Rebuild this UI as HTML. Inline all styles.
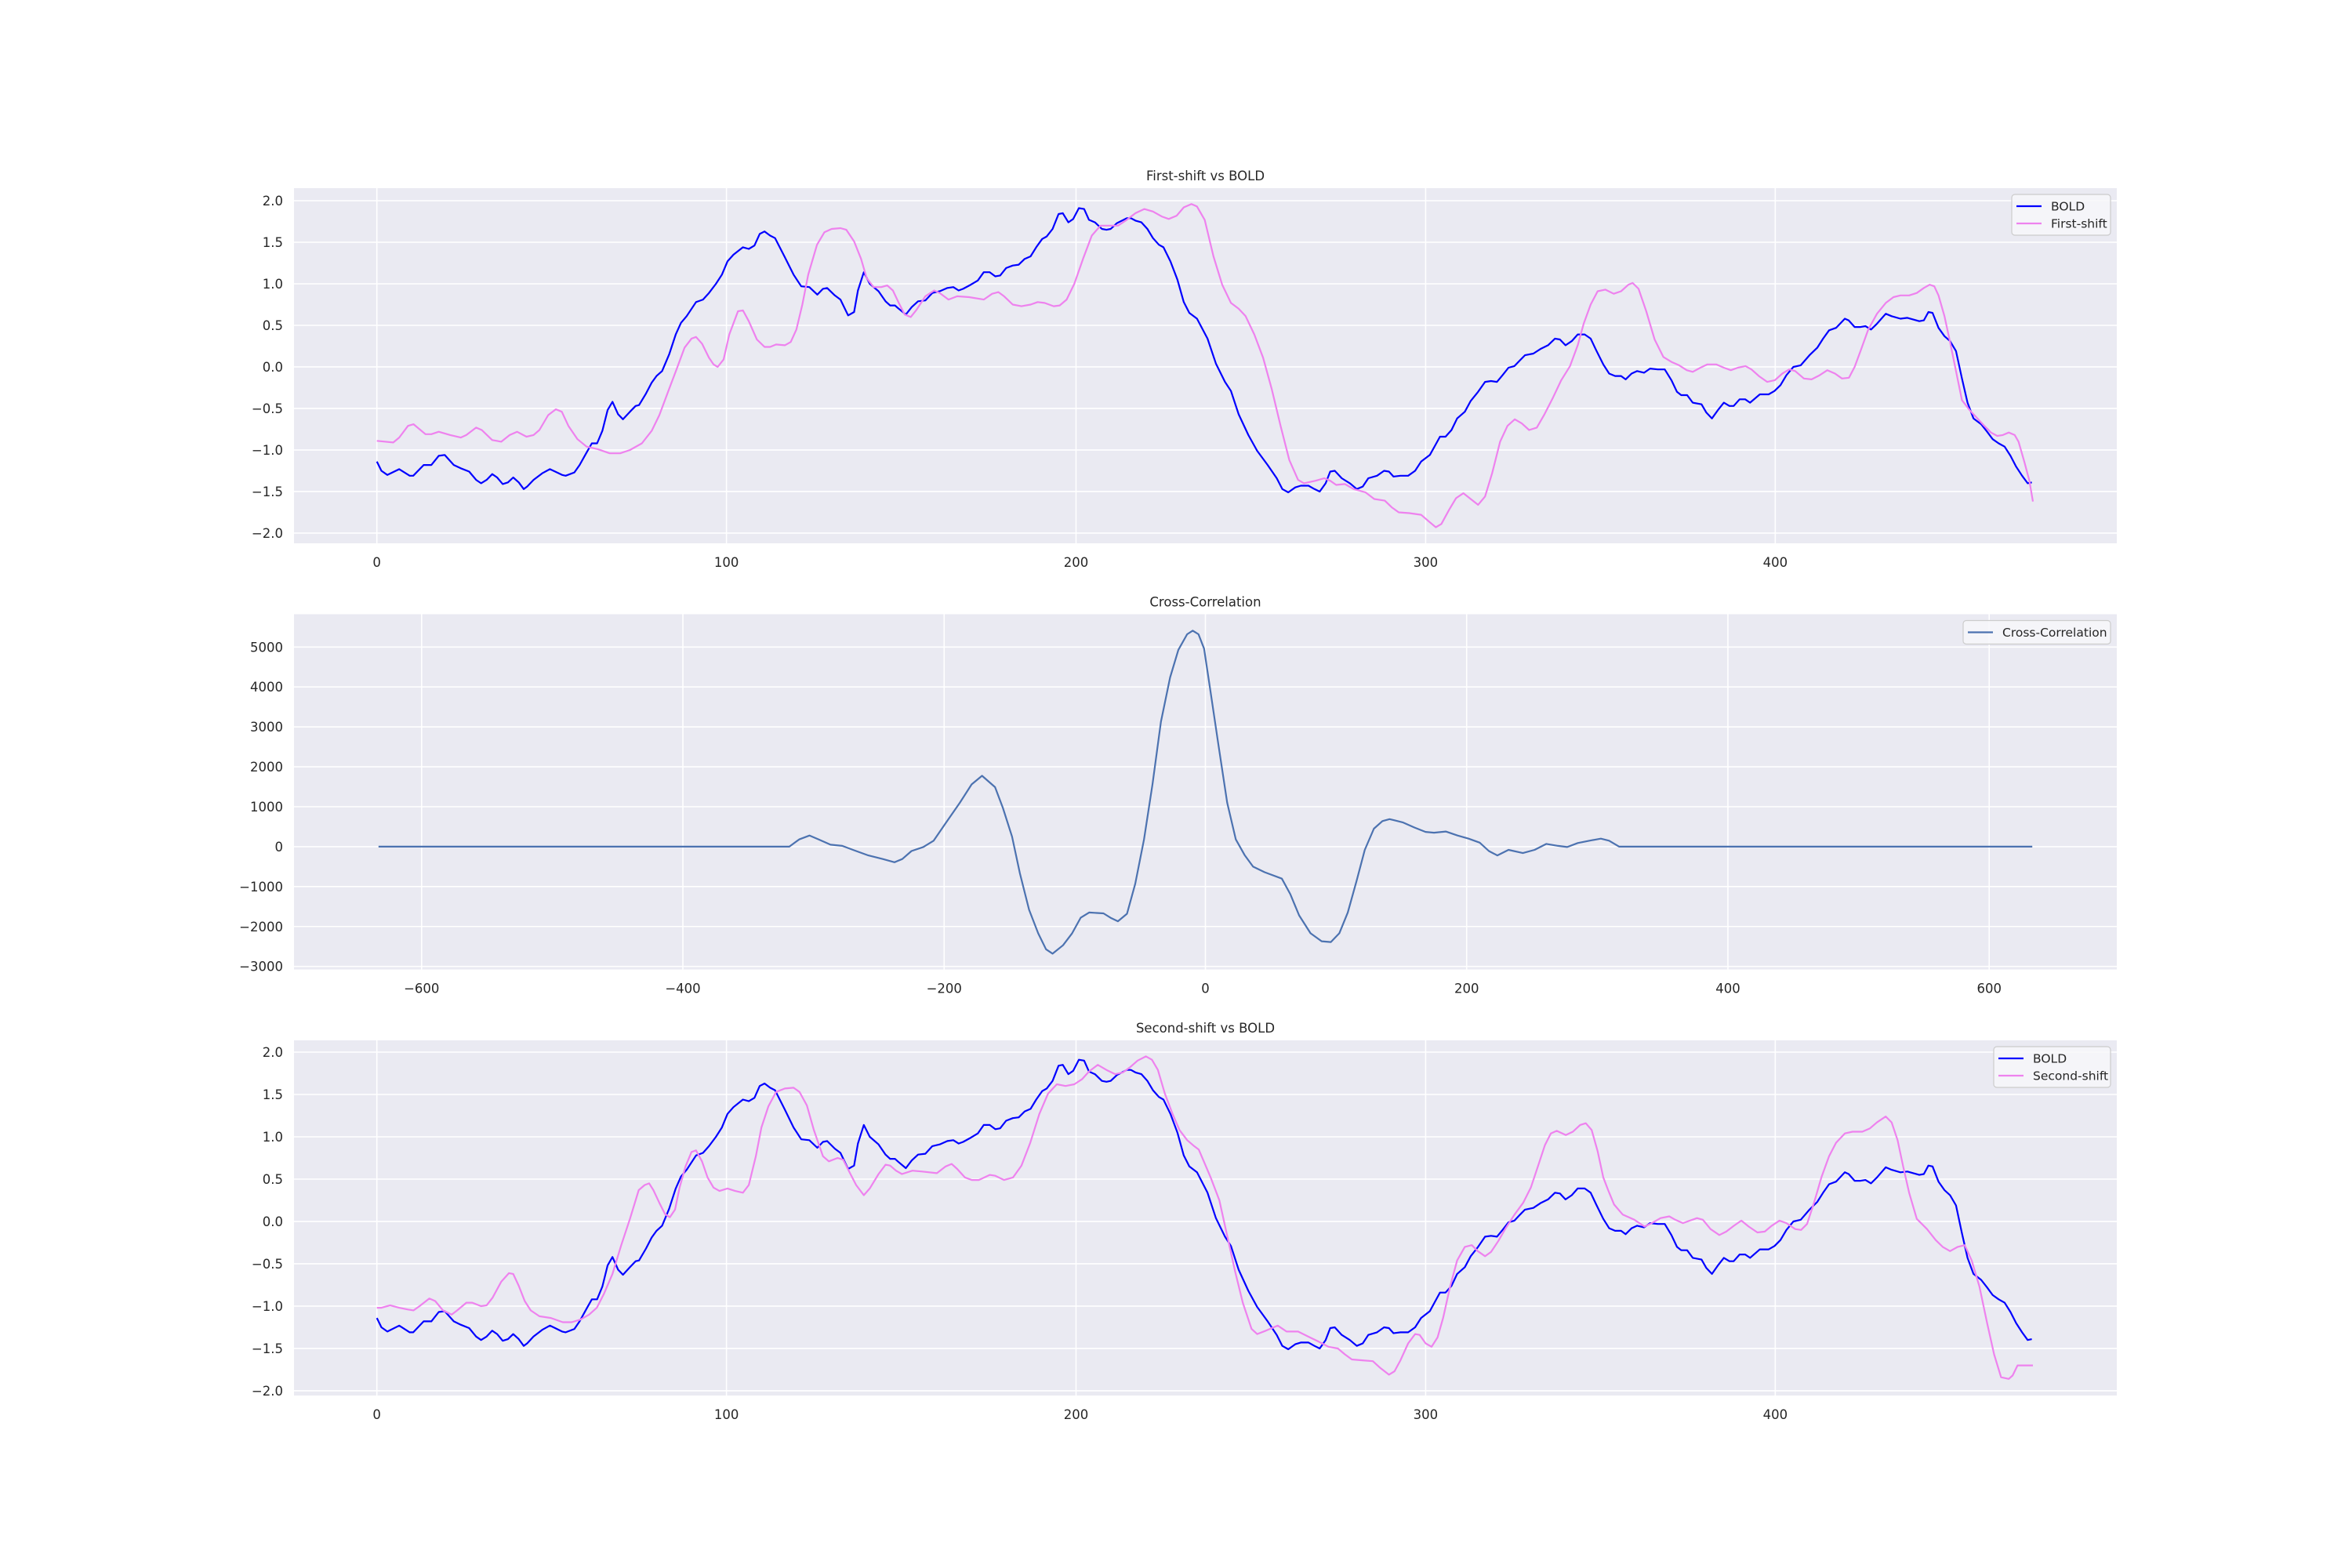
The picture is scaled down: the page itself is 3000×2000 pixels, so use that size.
<!DOCTYPE html>
<html><head><meta charset="utf-8">
<style>
html,body{margin:0;padding:0;background:#fff;}
svg{display:block;font-family:"DejaVu Sans","Liberation Sans",sans-serif;}
</style></head>
<body>
<svg id="fig" width="3000" height="2000" viewBox="0 0 3000 2000" xmlns="http://www.w3.org/2000/svg"></svg>
<script>
// ---------- DATA ----------
const boldT = [0,1.3,3,6.4,9.4,10.4,13.4,15.6,17.7,19.4,22,24,26.4,28.4,29.8,31.4,33,34.4,36,37.5,39,40.6,42,43,44.8,47.3,49.5,51,53,54,56.5,58,60,61.5,63,64.5,66,67.4,69,70.4,72.4,74,75,77,78.6,80,81.6,83.6,85.5,87,88.6,91.3,93.3,95,97,98.7,100.3,102,104.7,106.4,108,109.5,110.9,112.5,113.9,116.7,119.2,121.4,123.7,126,127.6,128.8,131,132.6,134.8,136.5,137.6,139.3,141,143.5,145.5,146.8,148.2,149.3,151.3,153,154.8,156.9,158.9,161,163.2,164.9,166.4,167.7,169.9,171.9,173.6,175.3,176.9,178.3,180,181.9,183.6,185.3,187,188.6,190.3,191.6,193.3,195,196.2,197.8,199.2,200.8,202.3,203.7,205.4,207.4,208.7,209.9,211.7,214.5,215.7,217,218.7,220.4,222,223.7,225,227,229,230.8,232.4,234.6,237.6,240,242.6,244.3,246.5,249.3,251.8,254.8,257.4,259,260.7,262.7,264.3,266.5,268.2,269.7,271.4,272.7,274,276,278.3,280.3,282,283.6,286.1,288.1,289.5,290.8,292.8,295,297,298.7,301.2,302.9,304.1,305.7,307.4,309,311.2,312.9,315,317,318.7,320.4,322,323.7,325.4,327,328.4,330.8,333,335,337,338.4,340,341.8,343.5,345.5,347.2,348.8,350.8,352.5,354.2,355.9,357.2,358.9,360.5,362.5,364.2,366.4,368.4,370.3,371.9,373.1,374.8,376.4,378.9,380.3,381.9,383.6,385.3,386.9,388.1,389.8,391.4,392.8,395.6,398.1,399.8,401.5,403.2,405.2,407.3,409.8,412,413.7,415.4,417.4,419.9,421,422.7,424.4,425.8,427.4,429.1,431.6,433.3,435.8,437.8,439.5,441.2,442.5,443.8,445,446.7,448.4,450,451.7,453.4,455,456.7,458.9,460.6,462.2,463.9,465.6,467.3,468.9,470.6,472.2,473.4];
const boldV = [-1.14,-1.25,-1.30,-1.23,-1.31,-1.31,-1.18,-1.18,-1.07,-1.06,-1.18,-1.22,-1.26,-1.36,-1.40,-1.36,-1.29,-1.33,-1.41,-1.39,-1.33,-1.39,-1.47,-1.44,-1.36,-1.28,-1.23,-1.26,-1.30,-1.31,-1.27,-1.18,-1.03,-0.92,-0.92,-0.77,-0.52,-0.42,-0.57,-0.63,-0.54,-0.47,-0.46,-0.32,-0.19,-0.11,-0.05,0.15,0.39,0.53,0.61,0.78,0.81,0.89,1.00,1.11,1.27,1.35,1.44,1.42,1.46,1.60,1.63,1.58,1.55,1.32,1.11,0.97,0.96,0.87,0.94,0.95,0.86,0.81,0.62,0.66,0.92,1.14,1.00,0.91,0.79,0.74,0.74,0.70,0.63,0.72,0.79,0.80,0.89,0.91,0.95,0.96,0.92,0.94,0.99,1.04,1.14,1.14,1.09,1.10,1.19,1.22,1.23,1.30,1.33,1.44,1.54,1.57,1.66,1.84,1.85,1.74,1.78,1.91,1.90,1.77,1.74,1.66,1.65,1.66,1.73,1.79,1.79,1.76,1.74,1.66,1.55,1.47,1.44,1.27,1.05,0.78,0.65,0.58,0.34,0.04,-0.18,-0.29,-0.57,-0.82,-1.01,-1.18,-1.34,-1.47,-1.51,-1.45,-1.43,-1.43,-1.47,-1.50,-1.40,-1.26,-1.25,-1.34,-1.40,-1.47,-1.44,-1.34,-1.31,-1.25,-1.26,-1.32,-1.31,-1.31,-1.25,-1.14,-1.06,-0.93,-0.84,-0.84,-0.76,-0.62,-0.54,-0.41,-0.30,-0.18,-0.17,-0.18,-0.10,-0.01,0.01,0.08,0.14,0.16,0.22,0.26,0.34,0.33,0.26,0.31,0.39,0.39,0.34,0.20,0.03,-0.08,-0.11,-0.11,-0.15,-0.08,-0.05,-0.07,-0.02,-0.03,-0.03,-0.16,-0.30,-0.34,-0.34,-0.43,-0.45,-0.55,-0.62,-0.52,-0.43,-0.47,-0.47,-0.39,-0.39,-0.43,-0.33,-0.33,-0.29,-0.22,-0.10,0.00,0.02,0.14,0.23,0.34,0.44,0.47,0.58,0.56,0.48,0.48,0.49,0.45,0.52,0.64,0.61,0.58,0.59,0.57,0.55,0.56,0.66,0.65,0.47,0.37,0.31,0.19,-0.14,-0.43,-0.62,-0.69,-0.78,-0.87,-0.92,-0.96,-1.07,-1.20,-1.31,-1.40,-1.39];

const firstT = [0,4.7,6.4,8.9,10.5,13.9,15.6,17.7,21,24,25.6,28.4,30,33,35.6,38,40.1,42.8,44.8,46.5,49,51.2,52.9,54.8,57.4,60,63.2,66.6,69.6,72.4,75.8,78.6,80.8,83.3,85.8,88,90,91.3,93,95,96.3,97.5,99.2,100.8,103.3,104.7,106.4,108.7,110.9,112.5,114.2,116.7,118.4,120,121.7,123.4,125.9,128,130.1,132.6,134.3,136.5,138.5,140.1,142.1,144.3,146,147.6,149.3,151,152.7,154.4,156.9,159.4,161,163.5,166,169.4,173.6,176,177.8,179.4,181.9,184.4,187,189,191,193.6,195.3,197.3,199.5,202,204.5,207,209,212,214.5,217,219.5,222,224.5,226.5,228.8,230.8,233,234.6,236.8,239.3,241.8,244.3,246.5,248.5,251,253.5,256,258.5,261,263.5,265.2,268.5,271,272.7,274.4,276.9,279.4,282.8,285.3,288.3,290.3,292.3,295.3,298.7,301.2,302.9,304.5,306.7,308.7,310.8,312.9,315,317,319,321.3,323.4,325.5,327.5,329.6,331.8,334,336.3,338.8,341.3,343.5,345.2,347.2,349.2,351.4,353.8,355.9,358,359.2,360.9,363.1,365.5,368,370.3,372.5,374.7,376.4,378.6,380.6,383.1,385.3,387.3,389.3,391.5,393.2,395.3,397.7,399.9,402,404,405.7,408.2,410.4,412.7,414.9,417.1,419.1,421.1,422.7,424.4,426.6,429.1,431.6,433.8,435.8,438.3,440.5,442.5,444.2,445.5,446.7,448.4,450,451.7,453.4,455.6,457.6,459.8,461.7,463.5,465.1,466.8,468.5,469.6,471.3,472.7,473.7];
const firstV = [-0.89,-0.91,-0.85,-0.71,-0.69,-0.81,-0.81,-0.78,-0.82,-0.85,-0.82,-0.73,-0.76,-0.88,-0.90,-0.82,-0.78,-0.84,-0.82,-0.76,-0.58,-0.51,-0.54,-0.71,-0.87,-0.96,-0.99,-1.04,-1.04,-1.00,-0.92,-0.77,-0.58,-0.30,-0.02,0.23,0.34,0.36,0.28,0.11,0.03,0.00,0.09,0.39,0.67,0.68,0.55,0.33,0.24,0.24,0.27,0.26,0.30,0.45,0.75,1.11,1.47,1.62,1.66,1.67,1.65,1.51,1.30,1.07,0.96,0.96,0.98,0.92,0.77,0.63,0.60,0.69,0.85,0.92,0.89,0.81,0.85,0.84,0.81,0.88,0.90,0.85,0.75,0.73,0.75,0.78,0.77,0.73,0.74,0.81,1.00,1.30,1.58,1.70,1.70,1.70,1.77,1.85,1.90,1.87,1.81,1.78,1.82,1.92,1.96,1.93,1.77,1.33,0.99,0.77,0.70,0.61,0.39,0.11,-0.27,-0.71,-1.12,-1.36,-1.40,-1.37,-1.34,-1.37,-1.42,-1.41,-1.47,-1.51,-1.59,-1.61,-1.69,-1.75,-1.76,-1.78,-1.87,-1.93,-1.89,-1.72,-1.58,-1.52,-1.59,-1.66,-1.56,-1.28,-0.90,-0.71,-0.63,-0.68,-0.76,-0.73,-0.57,-0.38,-0.16,0.01,0.26,0.52,0.75,0.91,0.93,0.88,0.91,0.99,1.01,0.94,0.67,0.33,0.12,0.06,0.02,-0.04,-0.06,-0.01,0.03,0.03,-0.01,-0.04,-0.01,0.01,-0.03,-0.11,-0.18,-0.16,-0.08,-0.03,-0.05,-0.14,-0.15,-0.10,-0.04,-0.08,-0.14,-0.13,0.00,0.19,0.45,0.64,0.77,0.84,0.86,0.86,0.89,0.95,0.99,0.97,0.86,0.61,0.30,-0.05,-0.40,-0.52,-0.61,-0.71,-0.79,-0.83,-0.82,-0.79,-0.82,-0.90,-1.15,-1.37,-1.62];

const secondT = [0,1.3,3.8,6.4,8.9,10.5,12.2,15,16.7,18.9,21.4,23,25.6,27.3,29.8,31.4,33.1,35.6,37.8,39,40.6,42.3,44,46.5,49.8,53.2,55.7,58.2,60.7,62.9,64.9,67.4,69.9,72.4,74.9,76.6,77.9,79.1,80.8,82.4,83.8,85.3,86.6,88.3,90,91.3,93,94.6,96.3,98,100.3,102.5,104.7,106.4,108.4,110,112,114.2,116.7,119.2,120.9,123,125,127.6,129.3,131.8,133.4,135.1,137.1,139.3,141,143.5,145.5,146.8,148.5,150.2,153.2,156,160.2,162.7,164.4,166,168.2,170.2,172.2,175.3,176.9,179.4,182,184.4,186.9,189.5,192,194.5,197,199.5,201.7,203.7,206.2,208.7,211.2,213.4,215.4,217.6,220,221.7,223.4,225.4,227.6,229.6,231.8,233.8,235.1,238.5,241,243.5,245.5,247.7,250.2,251.8,254.3,257.7,260.2,263.5,266.9,269.4,272.2,274.9,276.9,278.9,281.9,284.9,287,289.5,291.1,292.8,295,297,298.3,300,301.7,303.4,305,307,309,311.2,313.2,314.9,317,318.7,320.8,322.9,325.4,327.9,330.1,332.1,334.1,335.8,337.5,340.1,342.1,344.2,345.8,347.5,349.2,350.8,352.2,353.9,356.4,359.7,362.6,364.7,367.2,369.7,371.4,373.6,375.6,377.6,379.3,381.5,384,386,388.2,390.3,392.4,394.9,397,399,401.2,403.2,405.7,407.4,409.1,411.1,413.2,415.4,417.4,419.9,422.1,424.9,427.1,429.1,431.6,433.3,435,436.6,438.3,440.5,443.4,445.9,447.9,450,452.2,454.2,456.2,458.4,460.6,462.6,464.6,466.8,467.9,469.3,471.3,473.7];
const secondV = [-1.02,-1.02,-0.99,-1.02,-1.04,-1.05,-1.00,-0.91,-0.94,-1.05,-1.10,-1.05,-0.96,-0.96,-1.00,-0.99,-0.90,-0.71,-0.61,-0.62,-0.76,-0.94,-1.05,-1.12,-1.14,-1.19,-1.19,-1.16,-1.10,-1.02,-0.86,-0.62,-0.28,0.03,0.37,0.43,0.45,0.37,0.22,0.09,0.05,0.14,0.40,0.65,0.82,0.84,0.71,0.52,0.40,0.36,0.39,0.36,0.34,0.43,0.77,1.11,1.36,1.53,1.57,1.58,1.53,1.37,1.08,0.77,0.71,0.75,0.73,0.59,0.43,0.31,0.39,0.56,0.67,0.66,0.60,0.56,0.60,0.59,0.57,0.65,0.68,0.62,0.52,0.49,0.49,0.55,0.54,0.49,0.52,0.66,0.93,1.27,1.51,1.62,1.60,1.62,1.68,1.77,1.85,1.79,1.74,1.76,1.82,1.90,1.95,1.91,1.79,1.51,1.27,1.08,0.96,0.89,0.85,0.52,0.25,-0.22,-0.59,-0.96,-1.27,-1.33,-1.29,-1.23,-1.30,-1.30,-1.37,-1.42,-1.48,-1.50,-1.57,-1.63,-1.64,-1.65,-1.73,-1.81,-1.77,-1.64,-1.44,-1.33,-1.34,-1.44,-1.48,-1.37,-1.14,-0.77,-0.46,-0.30,-0.28,-0.35,-0.41,-0.36,-0.23,-0.08,0.08,0.22,0.40,0.65,0.90,1.04,1.07,1.02,1.06,1.14,1.16,1.08,0.83,0.52,0.37,0.20,0.08,0.02,-0.06,-0.02,0.04,0.06,0.02,-0.02,0.01,0.04,0.02,-0.09,-0.16,-0.12,-0.05,0.01,-0.06,-0.13,-0.12,-0.05,0.01,-0.02,-0.09,-0.10,-0.03,0.22,0.52,0.77,0.93,1.04,1.06,1.06,1.10,1.17,1.24,1.17,0.96,0.65,0.34,0.03,-0.09,-0.22,-0.30,-0.35,-0.30,-0.28,-0.46,-0.77,-1.20,-1.57,-1.84,-1.86,-1.82,-1.70,-1.70,-1.70];

const ccLag = [-633,-318.5,-311,-303,-296,-287,-278,-269,-258,-247,-238,-232,-225,-216,-208,-199,-188,-179,-171,-161,-155,-148,-142,-135,-128,-122,-117,-109,-102,-95.5,-89,-78,-72.6,-67,-60,-53.7,-47,-40.5,-34,-27,-20.7,-14,-9.7,-5.3,-1,3.5,10,16.7,23.3,30,36.5,45.3,58.5,65,71.7,80.5,89,96,102.5,109,115.7,122,129,135.5,141,151,160,168.5,175,184,193,201.5,210,217,223.5,232,243,252,261,270,277,285,294,302.7,309,316.8,633];
const ccVal = [0,0,180,280,180,50,20,-90,-220,-310,-390,-310,-110,-10,150,580,1100,1560,1775,1490,970,250,-670,-1580,-2170,-2570,-2680,-2470,-2170,-1780,-1650,-1670,-1780,-1870,-1680,-930,180,1560,3130,4240,4930,5320,5410,5320,4960,3980,2540,1100,180,-210,-500,-640,-800,-1190,-1720,-2170,-2370,-2390,-2170,-1650,-860,-80,450,640,690,610,480,370,350,380,280,200,100,-110,-220,-80,-160,-80,70,20,-10,90,150,200,150,0,0];

const shiftXTicks = [0,100,200,300,400];
const shiftYTicks = [-2.0,-1.5,-1.0,-0.5,0.0,0.5,1.0,1.5,2.0];
const ccXTicks = [-600,-400,-200,0,200,400,600];
const ccYTicks = [-3000,-2000,-1000,0,1000,2000,3000,4000,5000];

// ---------- RENDER ----------
const NS = "http://www.w3.org/2000/svg";
const svg = document.getElementById('fig');
const textColor = '#262626';
function mk(tag, attrs, parent){
  const e = document.createElementNS(NS, tag);
  for (const k in attrs) e.setAttribute(k, attrs[k]);
  (parent||svg).appendChild(e);
  return e;
}
function fmtNum(v, dec){
  const s = Math.abs(v).toFixed(dec);
  return (v < 0 ? "\u2212" : "") + s;
}
const L = 375, R = 2700;

function drawAxes(cfg){
  const g = mk('g', {});
  
  
  const sx = v => L + (v - cfg.xmin) / (cfg.xmax - cfg.xmin) * (R - L);
  const sy = v => cfg.bottom - (v - cfg.ymin) / (cfg.ymax - cfg.ymin) * (cfg.bottom - cfg.top);
  const bg = mk('rect', {x:L, y:cfg.top, width:R-L, height:cfg.bottom-cfg.top, fill:'#eaeaf2'}, g);
  
  
  cfg.xticks.forEach(t => {
    const x = sx(t);
    const ln = mk('line', {x1:x, x2:x, y1:cfg.top, y2:cfg.bottom, stroke:'#fff', 'stroke-width':1.6}, g);
    
    
    const tx = mk('text', {x:x, y:cfg.bottom+30, 'text-anchor':'middle', 'font-size':16.5, fill:textColor}, g);
    
    
    tx.textContent = fmtNum(t, 0);
  });
  cfg.yticks.forEach(t => {
    const y = sy(t);
    const ln = mk('line', {x1:L, x2:R, y1:y, y2:y, stroke:'#fff', 'stroke-width':1.6}, g);
    
    
    const tx = mk('text', {x:361, y:y+6, 'text-anchor':'end', 'font-size':16.5, fill:textColor}, g);
    
    
    tx.textContent = fmtNum(t, cfg.ydec);
  });
  const title = mk('text', {x:(L+R)/2, y:cfg.top-10, 'text-anchor':'middle', 'font-size':16.5, fill:textColor}, g);
  
  
  title.textContent = cfg.title;
  cfg.series.forEach(s => {
    let d = '';
    for (let i = 0; i < s.x.length; i++) d += (i ? 'L' : 'M') + sx(s.x[i]).toFixed(1) + ',' + sy(s.y[i]).toFixed(1);
    const p = mk('path', {d:d, fill:'none', stroke:s.color, 'stroke-width':2.2, 'stroke-linejoin':'round'}, g);
    
    
  });
  // legend
  const lg = mk('g', {}, g);
  
  
  const lw = cfg.legendW, lx = R - 8 - lw, ly = cfg.top + 8;
  const lh = 8 + cfg.series.length * 22;
  mk('rect', {x:lx, y:ly, width:lw, height:lh, rx:4, fill:'#f7f7fa', 'fill-opacity':0.85, stroke:'#cccccc', 'stroke-width':1.2}, lg);
  cfg.series.forEach((s, i) => {
    const cy = ly + 15 + i * 22;
    const e = mk('g', {}, lg);
    
    
    mk('line', {x1:lx+6, x2:lx+38, y1:cy, y2:cy, stroke:s.color, 'stroke-width':2.2}, e);
    const t = mk('text', {x:lx+50, y:cy+5.5, 'font-size':15.5, fill:textColor}, e);
    t.textContent = s.label;
  });
}

drawAxes({name:'first-shift-chart', title:'First-shift vs BOLD', top:240, bottom:693,
  xmin:-23.7, xmax:497.7, ymin:-2.123, ymax:2.151, xticks:shiftXTicks, yticks:shiftYTicks, ydec:1, legendW:126,
  series:[{name:'bold-line', label:'BOLD', x:boldT, y:boldV, color:'#0000ff'},
          {name:'first-shift-line', label:'First-shift', x:firstT, y:firstV, color:'#ee82ee'}]});
drawAxes({name:'cross-correlation-chart', title:'Cross-Correlation', top:783.5, bottom:1236.5,
  xmin:-697.7, xmax:697.7, ymin:-3075, ymax:5821, xticks:ccXTicks, yticks:ccYTicks, ydec:0, legendW:188,
  series:[{name:'cross-correlation-line', label:'Cross-Correlation', x:ccLag, y:ccVal, color:'#4c72b0'}]});
drawAxes({name:'second-shift-chart', title:'Second-shift vs BOLD', top:1327, bottom:1780,
  xmin:-23.7, xmax:497.7, ymin:-2.056, ymax:2.139, xticks:shiftXTicks, yticks:shiftYTicks, ydec:1, legendW:149,
  series:[{name:'bold-line', label:'BOLD', x:boldT, y:boldV, color:'#0000ff'},
          {name:'second-shift-line', label:'Second-shift', x:secondT, y:secondV, color:'#ee82ee'}]});
</script>
</body></html>
